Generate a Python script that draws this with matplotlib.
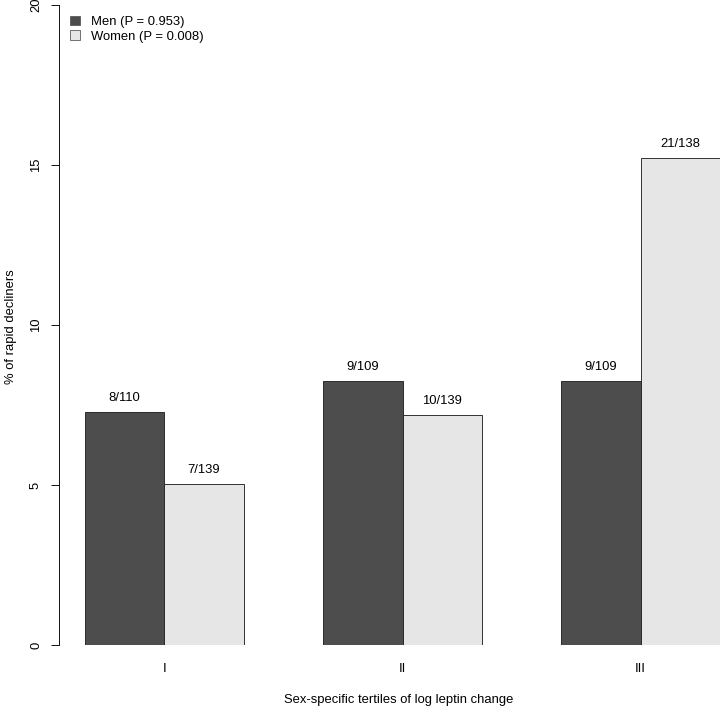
import matplotlib
matplotlib.use("Agg")
import matplotlib.pyplot as plt
from matplotlib.patches import Patch
import numpy as np

plt.rcParams['font.family'] = ['Liberation Sans', 'DejaVu Sans']

tertiles = ["I", "II", "III"]
men_pct = [8/110*100, 9/109*100, 9/109*100]
women_pct = [7/139*100, 10/139*100, 21/138*100]
men_labels = ["8/110", "9/109", "9/109"]
women_labels = ["7/139", "10/139", "21/138"]
legend_labels = ["Men (P = 0.953)", "Women (P = 0.008)"]
men_color = "#4D4D4D"
women_color = "#E6E6E6"

FS = 13
W, H = 720, 707
dpi = 72
fig = plt.figure(figsize=(W/dpi, H/dpi), dpi=dpi)
left_px, right_px, top_px, bot_px = 59, 720, 5, 645
ax = fig.add_axes([left_px/W, 1 - bot_px/H, (right_px-left_px)/W, (bot_px-top_px)/H])

bar_w = 1.0
x_men = np.array([1.5, 4.5, 7.5])
x_women = x_men + bar_w
ax.bar(x_men, men_pct, width=bar_w, color=men_color, edgecolor="#222222", linewidth=0.9)
ax.bar(x_women, women_pct, width=bar_w, color=women_color, edgecolor="#222222", linewidth=0.9)

for xs, vals, labs in [(x_men, men_pct, men_labels), (x_women, women_pct, women_labels)]:
    for x, v, l in zip(xs, vals, labs):
        ax.annotate(l, (x, v), xytext=(0, 11), textcoords="offset points",
                    ha="center", va="baseline", fontsize=FS)

ax.set_xlim(1 - 26/79.375, 9)
ax.set_ylim(0, 20)
ax.set_xticks((x_men + x_women)/2)
ax.set_xticklabels(tertiles, fontsize=FS)
ax.tick_params(axis="x", length=0, pad=18)
ax.set_yticks([0, 5, 10, 15, 20])
ax.set_yticklabels(["0", "5", "10", "15", "20"], rotation=90, va="center", fontsize=FS)
ax.tick_params(axis="y", length=8, width=0.9, pad=9)
for s in ["top", "right", "bottom"]:
    ax.spines[s].set_visible(False)
ax.spines["left"].set_bounds(0, 20)
ax.spines["left"].set_linewidth(0.9)

fig.text(399/W, 1 - 703/H, "Sex-specific tertiles of log leptin change", ha="center", va="baseline", fontsize=FS)
fig.text(11/W, 1 - 327/H, "% of rapid decliners", ha="center", va="center", rotation=90, fontsize=FS)

handles = [Patch(facecolor=men_color, edgecolor="#555555", linewidth=0.8),
           Patch(facecolor=women_color, edgecolor="#555555", linewidth=0.8)]
leg = fig.legend(handles, legend_labels, loc="upper left", bbox_to_anchor=(70/W, 1 - 16/H),
                 frameon=False, fontsize=FS, handlelength=0.8, handleheight=0.7,
                 handletextpad=0.8, labelspacing=0.18, borderpad=0, borderaxespad=0)

fig.savefig("out.png", dpi=dpi)
